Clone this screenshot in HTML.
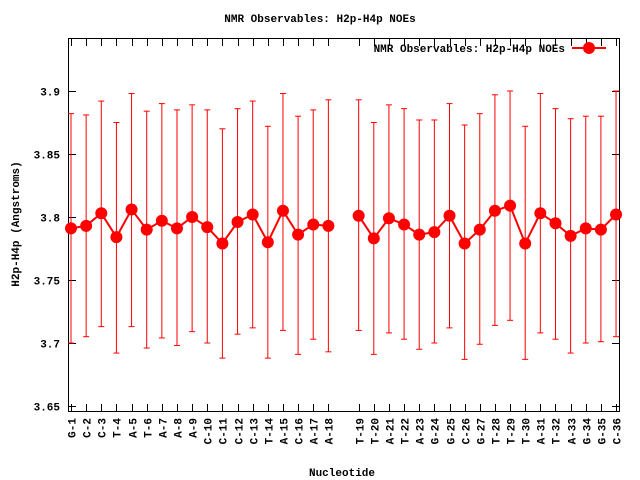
<!DOCTYPE html>
<html><head><meta charset="utf-8"><style>
body{margin:0;background:#fff}
svg{display:block}
text{font-family:"Liberation Mono",monospace;font-weight:bold;font-size:11px;fill:#000}
</style></head><body>
<svg id="c" width="640" height="480" xmlns="http://www.w3.org/2000/svg">
<text x="320" y="22" text-anchor="middle">NMR Observables: H2p-H4p NOEs</text>
<text x="342" y="476" text-anchor="middle">Nucleotide</text>
<text transform="translate(19,224) rotate(-90)" text-anchor="middle">H2p-H4p (Angstroms)</text>
<rect x="68.5" y="38.5" width="551" height="373" fill="none" stroke="#000"/>
<g id="ax"></g><g id="ser"></g>
<g>
<text x="565" y="52" text-anchor="end">NMR Observables: H2p-H4p NOEs</text>
<line x1="572" y1="48" x2="606" y2="48" stroke="#f00" stroke-width="2"/>
<circle cx="589" cy="48" r="6" fill="#f00"/>
</g>
</svg>
<script>
const categories=["G-1","C-2","C-3","T-4","A-5","T-6","A-7","A-8","A-9","C-10","C-11","C-12","C-13","T-14","A-15","C-16","A-17","A-18","T-19","T-20","A-21","T-22","A-23","G-24","G-25","C-26","G-27","T-28","T-29","T-30","A-31","T-32","A-33","G-34","G-35","C-36"];
const means=[3.791,3.793,3.803,3.784,3.806,3.790,3.797,3.791,3.800,3.792,3.779,3.796,3.802,3.780,3.805,3.786,3.794,3.793,3.801,3.783,3.799,3.794,3.786,3.788,3.801,3.779,3.790,3.805,3.809,3.779,3.803,3.795,3.785,3.791,3.790,3.802];
const upper=[3.882,3.881,3.892,3.875,3.898,3.884,3.890,3.885,3.889,3.885,3.870,3.886,3.892,3.872,3.898,3.880,3.885,3.893,3.893,3.875,3.889,3.886,3.877,3.877,3.890,3.873,3.882,3.897,3.900,3.872,3.898,3.886,3.878,3.880,3.880,3.900];
const lower=[3.700,3.705,3.713,3.692,3.713,3.696,3.704,3.698,3.709,3.700,3.688,3.707,3.712,3.688,3.710,3.691,3.703,3.693,3.710,3.691,3.708,3.703,3.695,3.700,3.712,3.687,3.699,3.714,3.718,3.687,3.708,3.703,3.692,3.700,3.701,3.705];
const yTicks=[3.65,3.7,3.75,3.8,3.85,3.9];
const NS="http://www.w3.org/2000/svg";
function ys(v){return 217-(v-3.8)*1260;}
function xs(i){const slot=i<18?i:i+1;return 71+slot*15.14;}
function mk(t,a,p){const e=document.createElementNS(NS,t);for(const k in a)e.setAttribute(k,a[k]);p.appendChild(e);return e;}
const ax=document.getElementById('ax'),ser=document.getElementById('ser');
yTicks.forEach(v=>{const y=Math.round(ys(v))+0.5;
 const t=mk('line',{x1:68.5,x2:76,y1:y,y2:y,stroke:'#000'},ax);
 
 
 const t2=mk('line',{x1:612,x2:619.5,y1:y,y2:y,stroke:'#000'},ax);
 
 
 const l=mk('text',{x:60,y:y+4,'text-anchor':'end'},ax);l.textContent=String(v);
 
 
});
categories.forEach((c,i)=>{const x=Math.round(xs(i))+0.5;
 const t=mk('line',{x1:x,x2:x,y1:404,y2:411.5,stroke:'#000'},ax);
 
 
 const t2=mk('line',{x1:x,x2:x,y1:38.5,y2:46,stroke:'#000'},ax);
 
 
 const l=mk('text',{transform:`translate(${x+4},418) rotate(-90)`,'text-anchor':'end'},ax);l.textContent=c;
 
 
});
categories.forEach((c,i)=>{const x=xs(i);
 const g=mk('g',{stroke:'#f00','stroke-width':1},ser);
 
 
 mk('line',{x1:x,x2:x,y1:ys(upper[i]),y2:ys(lower[i])},g);
 mk('line',{x1:x-3,x2:x+3,y1:ys(upper[i]),y2:ys(upper[i])},g);
 mk('line',{x1:x-3,x2:x+3,y1:ys(lower[i]),y2:ys(lower[i])},g);
});
function seg(a,b){const p=mk('polyline',{points:a.map(i=>xs(i)+','+ys(means[i])).join(' '),fill:'none',stroke:'#f00','stroke-width':2},ser);
 
 }
seg([...Array(18).keys()]);seg([...Array(18).keys()].map(k=>k+18));
means.forEach((v,i)=>{const c=mk('circle',{cx:xs(i),cy:ys(v),r:6,fill:'#f00'},ser);
 
 });
</script>
</body></html>
